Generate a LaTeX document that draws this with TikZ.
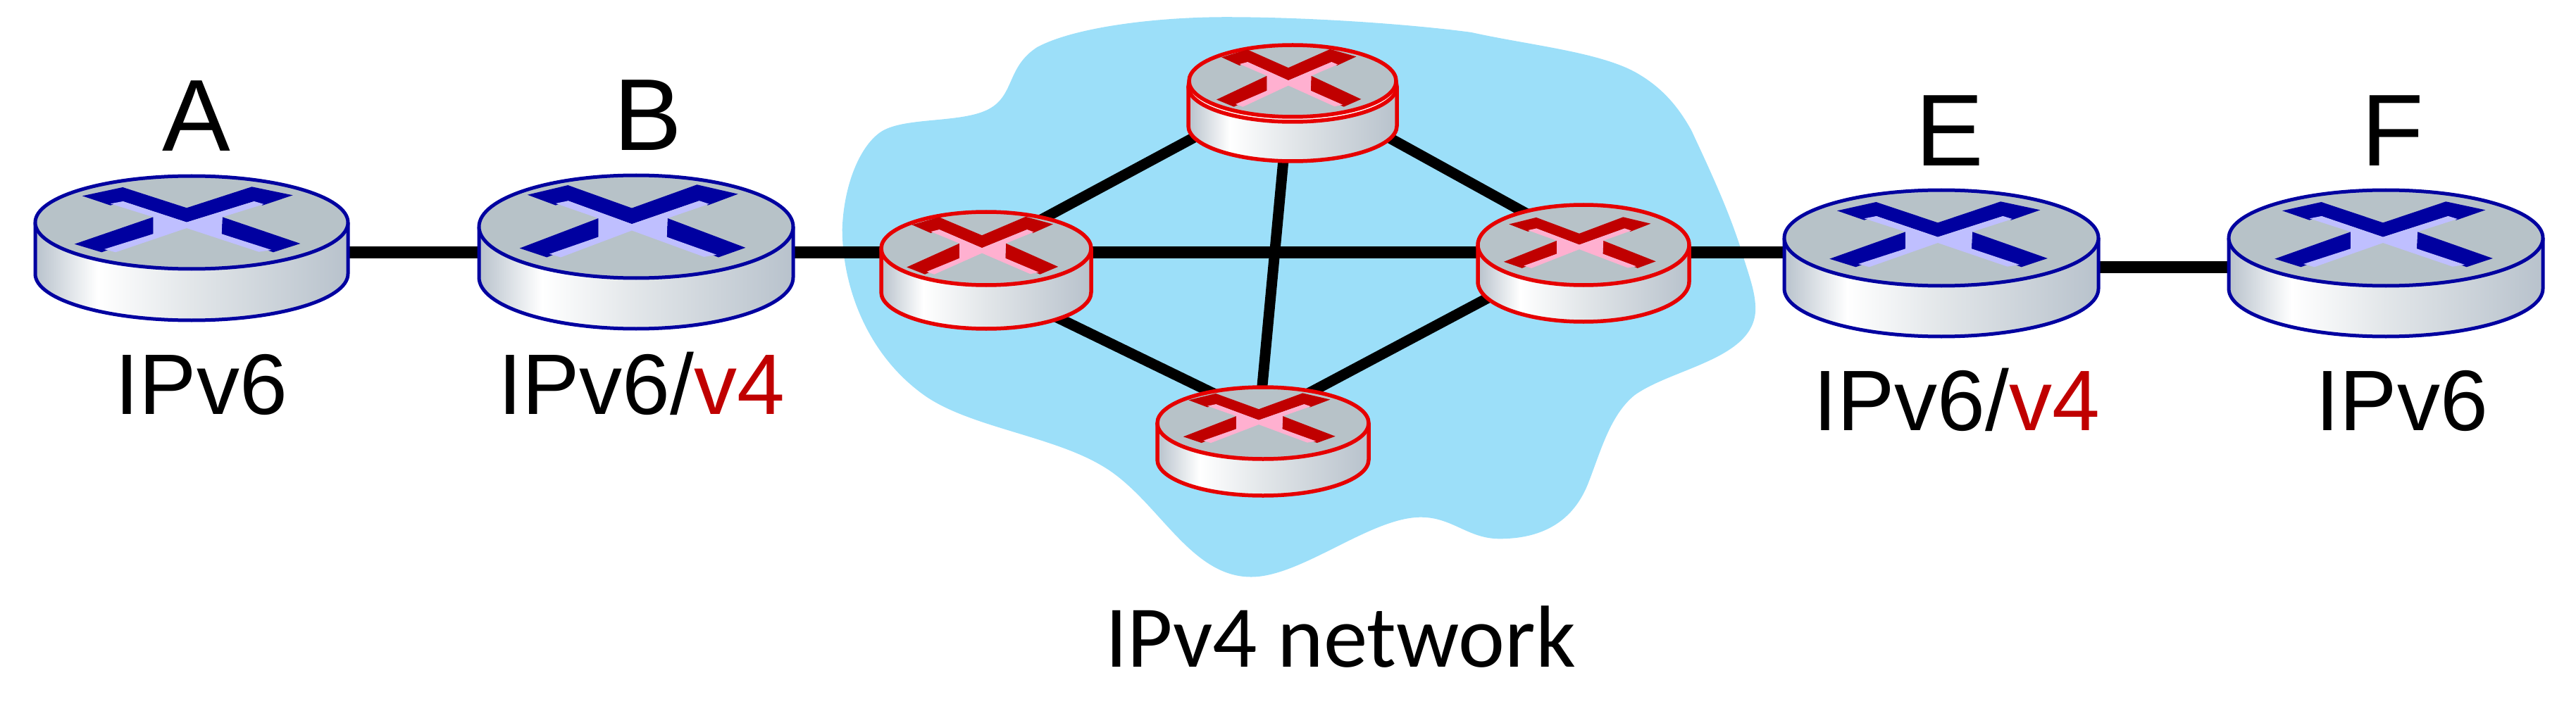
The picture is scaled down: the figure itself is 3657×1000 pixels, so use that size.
\documentclass[tikz,border=0pt]{standalone}
\usepackage{fontspec}
\setmainfont{Liberation Sans}
\newfontfamily\carlito{Carlito}
\definecolor{rtop}{HTML}{B7C2C8}
\definecolor{rside}{HTML}{B8C2CC}
\definecolor{rmid}{HTML}{E2E6E9}
\definecolor{cloudblue}{HTML}{9CDFF9}
\definecolor{labelred}{HTML}{C00000}
\pgfdeclarehorizontalshading{rtrside}{100bp}{color(0bp)=(rside);color(25bp)=(rside);color(35bp)=(white);color(50bp)=(rmid);color(75bp)=(rside);color(100bp)=(rside)}
\newcommand\bluetheme{\definecolor{rline}{HTML}{0000A0}\definecolor{rdark}{HTML}{0000A0}\definecolor{rlight}{HTML}{BFBFFF}\def\rlw{5pt}}
\newcommand\redtheme{\definecolor{rline}{HTML}{E60000}\definecolor{rdark}{HTML}{C00000}\definecolor{rlight}{HTML}{FFB0D0}\def\rlw{5.5pt}}
% cx cy rx ry depth
\newcommand\routerbody[5]{%
  \begin{scope}[shift={(#1,#2)}]
  \path[shading=rtrside] (-#3,0) -- (-#3,#5) arc[start angle=180,end angle=360,x radius=#3pt,y radius=#4pt] -- (#3,0) arc[start angle=0,end angle=180,x radius=#3pt,y radius=#4pt] -- cycle;
  \draw[rline,line width=\rlw,line join=round] (-#3,0) -- (-#3,#5) arc[start angle=180,end angle=360,x radius=#3pt,y radius=#4pt] -- (#3,0);
  \end{scope}}
\newcommand\routertop[4]{\draw[rline,line width=\rlw,fill=rtop] (#1,#2) ellipse[x radius=#3pt,y radius=#4pt];}
% x y sx sy
\newcommand\routercross[4]{%
  \begin{scope}[shift={(#1,#2)},xscale=#3,yscale=#4]
  \fill[rdark] (-148.2,-41.7) -- (-90.7,-54) -- (0,-24.7) -- (92.5,-54.7) -- (150.7,-42.7) -- (107.9,-28.3) -- (95.4,-34) -- (0,-4.3) -- (-90.4,-34) -- (-108.2,-28.3) -- cycle;
  \fill[rdark] (-159.3,26.7) -- (-47.5,-11.7) -- (-47.5,12.3) -- (-120.7,38.3) -- cycle;
  \fill[rdark] (161.4,26) -- (50.7,-11.7) -- (49.6,12.3) -- (122.9,38.3) -- cycle;
  \fill[rlight] (-108.2,-30.7) -- (-90.4,-34) -- (0,-4.3) -- (96,-34) -- (109.6,-30) -- (50.7,-11.7) -- (49.6,12.3) -- (120.4,35) -- (102.5,37.7) -- (0,4) -- (-101,38.3) -- (-117,34) -- (-47.5,12.3) -- (-47.5,-11.7) -- cycle;
  \end{scope}}
\tikzset{
  link/.style={line width=17pt,black},
  thinlink/.style={line width=15pt,black},
  biglabel/.style={anchor=base,inner sep=0pt,font=\fontsize{145}{145}\selectfont},
  iplabel/.style={anchor=base,inner sep=0pt,font=\fontsize{122}{122}\selectfont},
}
\begin{document}
\begin{tikzpicture}[x=1pt,y=-1pt]
\useasboundingbox (0,0) rectangle (3657,1000);
% cloud
\begin{scope}[shift={(1160,0)},xscale=0.89286,yscale=0.63776]
\fill[cloudblue] (40,510) .. controls (42,420) and (65,330) .. (100,295)
 .. controls (135,260) and (225,275) .. (270,245)
 .. controls (315,215) and (300,150) .. (350,105)
 .. controls (410,60) and (540,38) .. (650,38)
 .. controls (790,38) and (950,55) .. (1040,72)
 .. controls (1130,100) and (1240,115) .. (1300,160)
 .. controls (1345,195) and (1370,240) .. (1390,290)
 .. controls (1420,380) and (1450,470) .. (1470,560)
 .. controls (1483,620) and (1492,650) .. (1492,690)
 .. controls (1490,800) and (1360,820) .. (1300,880)
 .. controls (1260,925) and (1245,1010) .. (1225,1080)
 .. controls (1200,1165) and (1150,1200) .. (1085,1200)
 .. controls (1035,1200) and (1010,1152) .. (960,1152)
 .. controls (880,1152) and (770,1285) .. (690,1285)
 .. controls (590,1285) and (540,1105) .. (450,1035)
 .. controls (370,970) and (240,950) .. (170,880)
 .. controls (80,790) and (40,640) .. (40,510) -- cycle;
\end{scope}
% connection points
\coordinate (A) at (272,358);
\coordinate (B) at (903,358);
\coordinate (Lw) at (1400,358);
\coordinate (Lc) at (1400,354);
\coordinate (Ls) at (1400,402);
\coordinate (Te) at (1835,120);
\coordinate (Ts) at (1832,120);
\coordinate (M) at (1787,601);
\coordinate (Mw) at (1793,593);
\coordinate (R) at (2248,358);
\coordinate (Rs) at (2248,351);
\coordinate (Rn) at (2248,348);
\coordinate (E) at (2756,358);
\coordinate (Ef) at (2756,379);
\coordinate (F) at (3387,379);
% links
\draw[link] (A) -- (B);
\draw[link] (B) -- (Lw);
\draw[link] (Lw) -- (R);
\draw[link] (R) -- (E);
\draw[link] (Ef) -- (F);
\draw[thinlink] (Lc) -- (Te);
\draw[thinlink] (Te) -- (Rn);
\draw[thinlink] (Ts) -- (M);
\draw[thinlink] (Ls) -- (Mw);
\draw[thinlink] (Mw) -- (Rs);
% blue routers
\bluetheme
\routerbody{272}{316}{222}{66}{73}\routertop{272}{316}{222}{66}\routercross{265}{320}{1}{1}
\routerbody{903}{322}{223}{73}{72}\routertop{903}{322}{223}{73}\routercross{897}{323}{1}{1.11}
\routerbody{2756}{338}{223}{68}{72}\routertop{2756}{338}{223}{68}\routercross{2751}{341}{.965}{1}
\routerbody{3387}{338}{223}{68}{72}\routertop{3387}{338}{223}{68}\routercross{3383}{341}{.965}{1}
% red routers
\redtheme
\routerbody{1400}{353}{149}{52}{62}\routertop{1400}{353}{149}{52}\routercross{1394}{356}{.67}{.88}
\routerbody{1835}{123}{148}{50}{56}\draw[rline,line width=\rlw,fill=white] (1835,123) ellipse[x radius=148pt,y radius=50pt];\routertop{1835}{115}{147}{51}\routercross{1829}{118}{.64}{.88}
\routerbody{1793}{601}{150}{51}{52}\routertop{1793}{601}{150}{51}\routercross{1787}{600}{.673}{.76}
\routerbody{2248}{348}{150}{57}{52}\routertop{2248}{348}{150}{57}\routercross{2242}{351}{.673}{.78}
% labels
\node[biglabel] (lA) at (279,215) {A};
\node[biglabel] (lB) at (920,214) {B};
\node[biglabel] (lE) at (2768,236) {E};
\node[biglabel] (lF) at (3397,236) {F};
\node[iplabel] (lAip) at (286,588) {IPv6};
\node[iplabel] (lBip) at (911,588) {IPv6/\textcolor{labelred}{v4}};
\node[iplabel] (lEip) at (2778,611) {IPv6/\textcolor{labelred}{v4}};
\node[iplabel] (lFip) at (3410,611) {IPv6};
\node[iplabel,font=\carlito\fontsize{125}{125}\selectfont] (lnet) at (1903,947) {IPv4 network};
\end{tikzpicture}
\end{document}
